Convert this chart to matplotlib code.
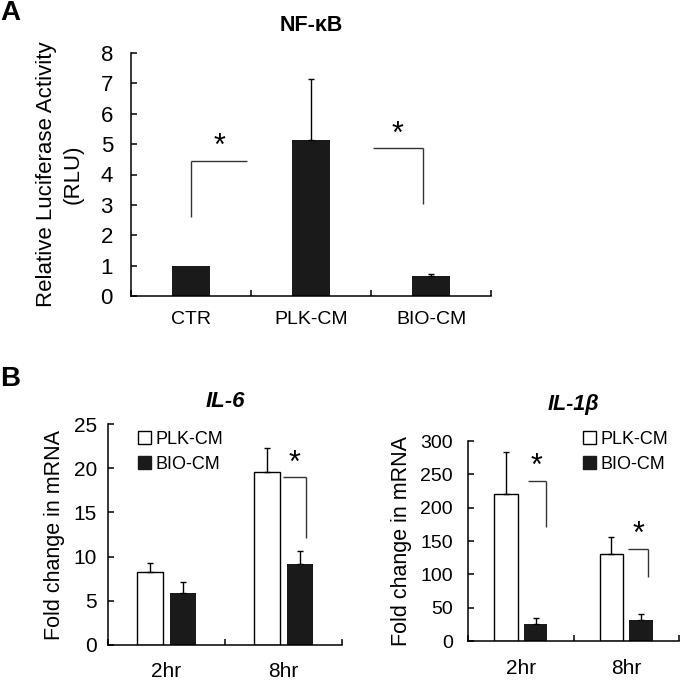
"""NF-kB luciferase activity (A) and IL-6 / IL-1b mRNA fold change (B)."""

import matplotlib.pyplot as plt
from matplotlib.patches import Patch

plt.rcParams.update(
    {
        "font.family": ["Liberation Sans", "DejaVu Sans"],
        "axes.linewidth": 1.1,
        "axes.spines.top": False,
        "axes.spines.right": False,
        "xtick.direction": "in",
        "ytick.direction": "in",
        "xtick.major.width": 1.1,
        "ytick.major.width": 1.1,
    }
)

BAR = "#1a1a1a"

# panel A: NF-kB (CTR has no error bar)
a_groups = ["CTR", "PLK-CM", "BIO-CM"]
a_mean = [1.0, 5.12, 0.65]
a_err = [None, 2.02, 0.08]
# brackets: (x_left, x_right, y_top, y_low, vertical side)
a_brackets = [(0.5, 0.967, 4.45, 2.6, "left"), (2.017, 2.43, 4.87, 3.03, "right")]

# panel B
times = ["2hr", "8hr"]
il6_plk = [8.3, 19.6]
il6_plk_err = [1.0, 2.7]
il6_bio = [5.9, 9.2]
il6_bio_err = [1.2, 1.4]
il6_brackets = [(1.496, 1.69, 19.0, 12.1, "right")]

il1b_plk = [220, 130]
il1b_plk_err = [63, 26]
il1b_bio = [25, 31]
il1b_bio_err = [9, 9]
il1b_brackets = [(0.569, 0.739, 240, 171, "right"), (1.517, 1.706, 138, 96, "right")]

W, H = 680, 681
fig = plt.figure(figsize=(W / 100, H / 100), dpi=100)


def px_axes(x0, x1, y_top, y_bottom):
    return fig.add_axes([x0 / W, 1 - y_bottom / H, (x1 - x0) / W, (y_bottom - y_top) / H])


def up_errors(ax, xs, ys, errs):
    pts = [(x, y, e) for x, y, e in zip(xs, ys, errs) if e is not None]
    ax.errorbar([p[0] for p in pts], [p[1] for p in pts],
                yerr=[[0] * len(pts), [p[2] for p in pts]], fmt="none", ecolor="k",
                elinewidth=1, capsize=2.5, capthick=1)


def draw_brackets(ax, brackets, star_size):
    for xl, xr, top, low, side in brackets:
        xv = xl if side == "left" else xr
        ax.plot([xl, xr], [top, top], color="#333", lw=1.0, solid_capstyle="butt")
        ax.plot([xv, xv], [top, low], color="#333", lw=1.0, solid_capstyle="butt")
        ax.annotate("*", ((xl + xr) / 2, top), xytext=(0, -1), textcoords="offset points",
                    ha="center", va="bottom", fontsize=star_size)


def style(ax, n, ylim, yticks, ypad, xpad, tick_fs, x_fs, labels):
    ax.set_xlim(0, n)
    ax.set_ylim(*ylim)
    ax.set_yticks(yticks)
    ax.tick_params(axis="y", length=4.5, pad=ypad, labelsize=tick_fs)
    ax.set_xticks(range(n + 1))
    ax.tick_params(axis="x", which="major", length=4.5, labelbottom=False)
    ax.set_xticks([i + 0.5 for i in range(n)], labels, minor=True)
    ax.tick_params(axis="x", which="minor", length=0, pad=xpad, labelsize=x_fs)


# ---- A
axA = px_axes(131, 491, 53, 296)
xa = [i + 0.5 for i in range(len(a_groups))]
axA.bar(xa, a_mean, width=0.317, color=BAR)
up_errors(axA, xa, a_mean, a_err)
style(axA, 3, (0, 8), range(0, 9), 13, 11, 16, 14, a_groups)
axA.set_ylabel("Relative Luciferase Activity\n(RLU)", fontsize=16, labelpad=12,
               linespacing=1.35)
axA.set_title("NF-\u03baB", fontsize=15.5, fontweight="bold", pad=16)
draw_brackets(axA, a_brackets, 22)
fig.text(0.0, 1.0, "A", fontsize=20, fontweight="bold", va="top", ha="left")


def panel_b(ax, plk, plk_err, bio, bio_err, brackets):
    xs = [i + 0.5 for i in range(len(times))]
    off, w = 0.141, 0.224
    xp = [x - off for x in xs]
    xb = [x + off for x in xs]
    ax.bar(xp, plk, width=w, color="white", edgecolor="k", linewidth=1.0)
    ax.bar(xb, bio, width=w, color=BAR)
    up_errors(ax, xp, plk, plk_err)
    up_errors(ax, xb, bio, bio_err)
    draw_brackets(ax, brackets, 22)


def legend(ax, anchor):
    handles = [Patch(facecolor="white", edgecolor="k", lw=1.0, label="PLK-CM"),
               Patch(facecolor=BAR, edgecolor=BAR, label="BIO-CM")]
    ax.legend(handles=handles, loc="upper left", bbox_to_anchor=anchor, frameon=False,
              fontsize=13, handlelength=0.7, handleheight=0.7, handletextpad=0.25,
              labelspacing=0.45, borderaxespad=0, borderpad=0)


axL = px_axes(108, 342, 424, 645)
panel_b(axL, il6_plk, il6_plk_err, il6_bio, il6_bio_err, il6_brackets)
style(axL, 2, (0, 25), range(0, 26, 5), 8, 12, 15, 15, times)
axL.set_ylabel("Fold change in mRNA", fontsize=15.5, labelpad=6)
axL.set_title("IL-6", fontsize=16, fontweight="bold", style="italic", pad=12)
legend(axL, (0.13, 0.97))
fig.text(0.0, 1 - 366 / H, "B", fontsize=20, fontweight="bold", va="top", ha="left")

axR = px_axes(468, 679, 441, 641)
panel_b(axR, il1b_plk, il1b_plk_err, il1b_bio, il1b_bio_err, il1b_brackets)
style(axR, 2, (0, 300), range(0, 301, 50), 11, 13, 14, 15, times)
axR.set_ylabel("Fold change in mRNA", fontsize=15.5, labelpad=6)
axR.set_title("IL-1\u03b2", fontsize=15.5, fontweight="bold", style="italic", pad=22)
legend(axR, (0.545, 1.05))

fig.savefig("out.png", dpi=100, facecolor="white")
